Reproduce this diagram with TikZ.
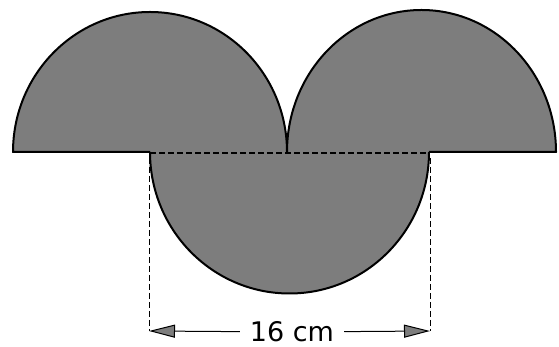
\documentclass[tikz,border=0pt]{standalone}
\usepackage{fontspec}
\setmainfont{DejaVu Sans}
\usepackage{tikz}
\usetikzlibrary{arrows.meta, positioning, calc}
\definecolor{shadegray}{RGB}{125, 125, 125}

\begin{document}
\begin{tikzpicture}[x=1pt, y=1pt,
    outline/.style={draw=black, line width=2pt, line join=round},
    guide/.style={dash pattern=on 6pt off 3pt, line width=1pt},
    dimarrow/.style={-{Triangle[length=26pt, width=13pt, fill=shadegray]}, line width=1pt}]
  \useasboundingbox (0,0) rectangle (559,347);

  % Shaded half discs: upper left, upper right, lower
  \fill[shadegray] (13,195) arc[start angle=180, end angle=0, x radius=137, y radius=140] -- cycle;
  \fill[shadegray] (287,195) arc[start angle=180, end angle=0, x radius=134.5, y radius=142] -- cycle;
  \fill[shadegray] (150,195.5) arc[start angle=180, end angle=360, x radius=139.5, y radius=141.5] -- cycle;

  % Outer rim
  \draw[outline] (150,195) -- (13,195)
    arc[start angle=180, end angle=0, x radius=137, y radius=140];
  \draw[outline] (287,195)
    arc[start angle=180, end angle=0, x radius=134.5, y radius=142] -- (429,195);
  \draw[outline] (150,195)
    arc[start angle=180, end angle=360, x radius=139.5, y radius=141.5];

  % Dashed diameter of the lower half disc
  \draw[guide, line width=1.6pt] (150,194) -- (429,194);

  % Extension lines
  \coordinate (dimL) at (149,16);
  \coordinate (dimR) at (430,16);
  \draw[guide] (149,189) -- (dimL);
  \draw[guide] (430,189) -- (dimR);

  % Length label with arrows
  \node[inner xsep=10pt, font=\fontsize{27}{32}\selectfont] (len) at (292,15) {16 cm};
  \draw[dimarrow] (len) -- (dimL);
  \draw[dimarrow] (len) -- (dimR);
\end{tikzpicture}
\end{document}
